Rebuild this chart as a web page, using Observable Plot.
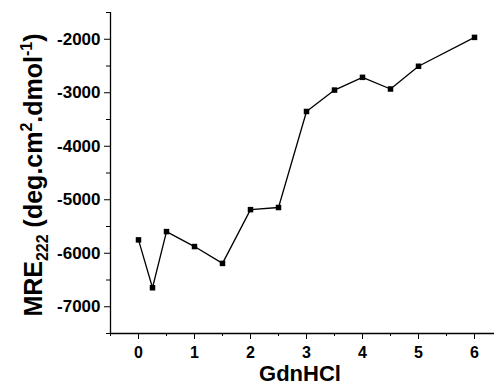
<!DOCTYPE html>
<html>
<head>
<meta charset="utf-8">
<script src="https://cdn.jsdelivr.net/npm/d3@7"></script>
<script src="https://cdn.jsdelivr.net/npm/@observablehq/plot@0.6"></script>
<style>
  html, body { margin: 0; padding: 0; background: #fff; }
  svg { display: block; }
</style>
</head>
<body>
<div id="chart"></div>
<script>
const gdnhcl = [0, 0.25, 0.5, 1, 1.5, 2, 2.5, 3, 3.5, 4, 4.5, 5, 6];
const mre222 = [-5750, -6645, -5595, -5875, -6190, -5185, -5145, -3350, -2950, -2712, -2930, -2505, -1965];
const xMajorTicks = [0, 1, 2, 3, 4, 5, 6];
const xMinorTicks = [-0.5, 0.5, 1.5, 2.5, 3.5, 4.5, 5.5];
const yMajorTicks = [-7000, -6000, -5000, -4000, -3000, -2000];
const yMinorTicks = [-7500, -6500, -5500, -4500, -3500, -2500, -1500];

const data = gdnhcl.map((x, i) => ({x, y: mre222[i]}));
const font = "'Liberation Sans', Arial, sans-serif";

const plot = Plot.plot({
  width: 494,
  height: 386,
  marginLeft: 110,
  marginRight: 0,
  marginTop: 12,
  marginBottom: 53,
  style: {fontFamily: font, fontSize: "17px", fontWeight: "bold", color: "#000", background: "#fff"},
  x: {domain: [-0.5, 6.357]},
  y: {domain: [-7500, -1500]},
  marks: [
    Plot.axisX({ticks: xMajorTicks, tickSize: 6, tickPadding: 7, fontSize: 16, tickFormat: d => String(d), label: null, stroke: "#000"}),
    Plot.axisX({ticks: xMinorTicks, tickSize: 3, tickFormat: () => "", label: null, stroke: "#000"}),
    Plot.axisY({ticks: yMajorTicks, tickSize: 6, tickPadding: 4, fontSize: 17, tickFormat: d => String(d), label: null, stroke: "#000"}),
    Plot.axisY({ticks: yMinorTicks, tickSize: 4, tickFormat: () => "", label: null, stroke: "#000"}),
    Plot.ruleX([-0.5], {stroke: "#000", strokeWidth: 1.3}),
    Plot.ruleY([-7500], {stroke: "#000", strokeWidth: 1.3}),
    Plot.line(data, {x: "x", y: "y", stroke: "#000", strokeWidth: 1.3}),
    Plot.dot(data, {x: "x", y: "y", symbol: "square", r: 3.1, fill: "#000", stroke: "none"})
  ]
});

document.getElementById("chart").appendChild(plot);

const svg = d3.select(plot);
// x-axis title
svg.append("text")
  .attr("x", 300).attr("y", 381)
  .attr("text-anchor", "middle")
  .attr("font-family", font).attr("font-weight", "bold").attr("font-size", 22)
  .attr("fill", "#000")
  .text("GdnHCl");

// y-axis title with sub/superscripts
const yt = svg.append("text")
  .attr("transform", "translate(42,175) rotate(-90)")
  .attr("text-anchor", "middle")
  .attr("font-family", font).attr("font-weight", "bold").attr("font-size", 25)
  .attr("fill", "#000");
yt.append("tspan").text("MRE");
yt.append("tspan").attr("font-size", 16).attr("dy", 6).text("222");
yt.append("tspan").attr("dy", -6).text(" (deg.cm");
yt.append("tspan").attr("font-size", 16).attr("dy", -10).text("2");
yt.append("tspan").attr("dy", 10).text(".dmol");
yt.append("tspan").attr("font-size", 16).attr("dy", -10).text("-1");
yt.append("tspan").attr("dy", 10).text(")");
</script>
</body>
</html>
